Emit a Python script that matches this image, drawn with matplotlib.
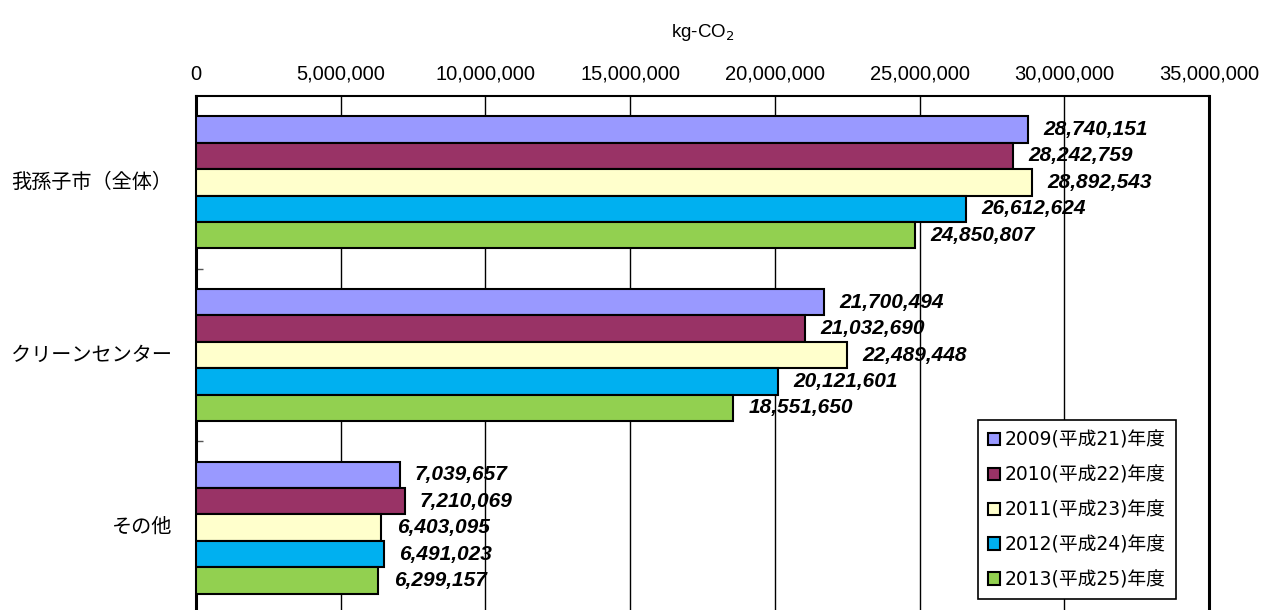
import matplotlib
matplotlib.use("Agg")
import matplotlib.pyplot as plt
from matplotlib.patches import Patch
import numpy as np

plt.rcParams['font.family'] = ['Noto Sans CJK JP', 'DejaVu Sans']

categories = ['我孫子市（全体）', 'クリーンセンター', 'その他']
series_names = ['2009(平成21)年度', '2010(平成22)年度', '2011(平成23)年度',
                '2012(平成24)年度', '2013(平成25)年度']
values_2009 = [28740151, 21700494, 7039657]
values_2010 = [28242759, 21032690, 7210069]
values_2011 = [28892543, 22489448, 6403095]
values_2012 = [26612624, 20121601, 6491023]
values_2013 = [24850807, 18551650, 6299157]
series_values = [values_2009, values_2010, values_2011, values_2012, values_2013]
colors = ['#9999FF', '#993366', '#FFFFCC', '#00B0F0', '#92D050']
xticks = [0, 5000000, 10000000, 15000000, 20000000, 25000000, 30000000, 35000000]

fig = plt.figure(figsize=(12.63, 6.10), dpi=100)
ax = fig.add_axes([196/1263, 1 - 614/610, (1209-196)/1263, (614-96)/610])

bh = 0.153
y = np.arange(len(categories))
for j, (vals, c) in enumerate(zip(series_values, colors)):
    pos = y + (j - 2) * bh
    ax.barh(pos, vals, height=bh, color=c, edgecolor='black', linewidth=1.5, zorder=3)
    for p, v in zip(pos, vals):
        ax.annotate(f'{v:,}', xy=(v, p), xytext=(11, 0), textcoords='offset points',
                    ha='left', va='center', fontsize=15, fontweight='bold',
                    fontstyle='italic', family=['Liberation Sans', 'DejaVu Sans'], zorder=4)

ax.set_xlim(0, 35000000)
ax.set_ylim(2.5, -0.5)
ax.xaxis.tick_top()
ax.xaxis.set_label_position('top')
ax.set_xticks(xticks)
ax.set_xticklabels([f'{t:,}' for t in xticks], fontsize=14.5,
                   family=['Liberation Sans', 'DejaVu Sans'])
ax.tick_params(axis='x', length=0, pad=9)
ax.set_xlabel('kg-CO$_2$', fontsize=13.5, labelpad=20,
              family=['Liberation Sans', 'DejaVu Sans'])
ax.grid(axis='x', color='black', linewidth=1, zorder=0)

ax.set_yticks([0.5, 1.5])
ax.set_yticklabels([])
ax.tick_params(axis='y', direction='in', length=5, width=1, color='#555555')
for i, cat in enumerate(categories):
    ax.text(-24/1013, i, cat, transform=ax.get_yaxis_transform(), ha='right', va='center',
            fontsize=14.5)

for s in ['left', 'right']:
    ax.spines[s].set_linewidth(2.2)
ax.spines['top'].set_linewidth(1.5)
ax.spines['bottom'].set_visible(False)

handles = [Patch(facecolor=c, edgecolor='black', linewidth=1.5) for c in colors]
leg = fig.legend(handles, series_names, loc='upper left',
                 bbox_to_anchor=(978/1263, 1 - 420/610),
                 prop={'family': ['DejaVu Sans', 'Noto Sans CJK JP'], 'size': 13.5},
                 handlelength=0.62, handleheight=0.62, handletextpad=0.25,
                 labelspacing=0.85, borderpad=0.55, borderaxespad=0,
                 fancybox=False, framealpha=1, edgecolor='black')
leg.get_frame().set_linewidth(1.2)

fig.savefig('out.png', dpi=100)
